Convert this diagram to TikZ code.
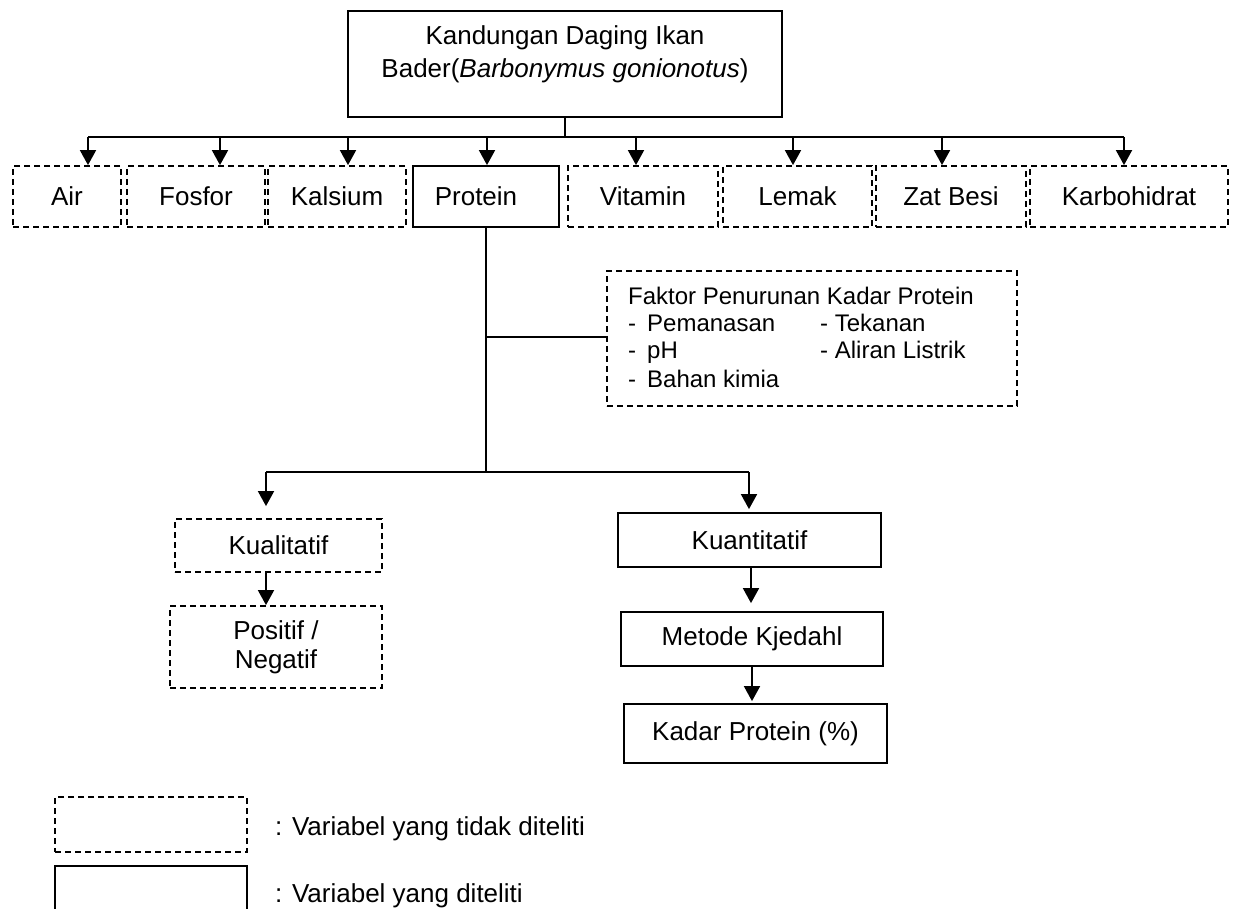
\documentclass[tikz,border=0pt]{standalone}
\usepackage{fontspec}
\setmainfont{Liberation Sans}
\usetikzlibrary{arrows.meta}
\begin{document}
\begin{tikzpicture}[x=1pt,y=-1pt,
  every node/.style={font=\fontsize{26}{31}\selectfont},
  sbox/.style={draw, line width=1.8pt, inner sep=0pt, align=center},
  dbox/.style={sbox, dash pattern=on 6pt off 4pt},
  line/.style={line width=1.8pt},
  arr/.style={line width=1.8pt, -{Triangle[width=16pt,length=15pt]}},
  txt/.style={inner sep=0pt, anchor=base west, font=\fontsize{24}{28}\selectfont}]
\useasboundingbox (0,0) rectangle (1237,909);

% top box
\node[sbox, minimum width=434pt, minimum height=106pt] (top) at (565,64) {};
\node[inner sep=0pt, align=center, font=\fontsize{26}{33}\selectfont] (toptext) at (565,54) {Kandungan Daging Ikan\\Bader(\textit{Barbonymus gonionotus})};

% row
\node[dbox, minimum width=108pt, minimum height=61pt] (air) at (67,196.5) {Air};
\node[dbox, minimum width=138pt, minimum height=61pt] (fos) at (196,196.5) {Fosfor};
\node[dbox, minimum width=138pt, minimum height=61pt] (kal) at (337,196.5) {Kalsium};
\node[sbox, minimum width=146pt, minimum height=61pt] (pro) at (486,196.5) {Protein\hspace*{20pt}};
\node[dbox, minimum width=150pt, minimum height=61pt] (vit) at (643,196.5) {Vitamin};
\node[dbox, minimum width=149pt, minimum height=61pt] (lem) at (797.5,196.5) {Lemak};
\node[dbox, minimum width=150pt, minimum height=61pt] (zat) at (951,196.5) {Zat Besi};
\node[dbox, minimum width=198pt, minimum height=61pt] (kar) at (1129,196.5) {Karbohidrat};

\draw[line] (top.south) -- (top.south |- 0,137);
\draw[line] (88,137) -- (1124,137);
\foreach \x/\n in {88/air,220/fos,348/kal,487/pro,636/vit,793/lem,942/zat,1124/kar}{
  \coordinate (c\n) at (\x,137);
  \draw[arr] (c\n) -- (c\n |- \n.north);
}

% factor box
\node[dbox, minimum width=410pt, minimum height=135pt] (fak) at (812,338.5) {};
\node[txt] (f0) at (628,305) {Faktor Penurunan Kadar Protein};
\node[txt] (f1a) at (628,332) {-};
\node[txt] (f1b) at (647,332) {Pemanasan};
\node[txt] (f1c) at (820,332) {- Tekanan};
\node[txt] (f2a) at (628,359) {-};
\node[txt] (f2b) at (647,359) {pH};
\node[txt] (f2c) at (820,359) {- Aliran Listrik};
\node[txt] (f3a) at (628,387) {-};
\node[txt] (f3b) at (647,387) {Bahan kimia};

% lower boxes
\node[dbox, minimum width=207pt, minimum height=53pt] (kual) at (278.5,545.5) {Kualitatif};
\node[dbox, minimum width=212pt, minimum height=82pt, font=\fontsize{26}{29}\selectfont] (pos) at (276,647) {Positif /\\Negatif};
\node[sbox, minimum width=263pt, minimum height=54pt] (kuan) at (749.5,540) {Kuantitatif};
\node[sbox, minimum width=262pt, minimum height=54pt] (met) at (752,639) {Metode Kjedahl};
\node[sbox, minimum width=263pt, minimum height=59pt] (kad) at (755.5,733.5) {Kadar Protein (\%)};

\coordinate (pj) at (486,337);
\coordinate (pb) at (486,472);
\coordinate (bl) at (266,472);
\coordinate (br) at (749,472);
\coordinate (qk) at (751,472);
\draw[line] (pro.south) -- (pb);
\draw[line] (pj) -- (pj -| fak.west);
\draw[line] (bl) -- (br);
\draw[arr, shorten >=12pt] (bl) -- (bl |- kual.north);
\draw[arr, shorten >=3pt] (br) -- (br |- kuan.north);
\draw[arr] (kual.south -| bl) -- (pos.north -| bl);
\draw[arr, shorten >=8pt] (kuan.south -| qk) -- (met.north -| qk);
\draw[arr, shorten >=2pt] (met.south) -- (met.south |- kad.north);

% legend
\node[dbox, minimum width=192pt, minimum height=55pt] (ld) at (151,824.5) {};
\node[inner sep=0pt, anchor=base west] (lt1) at (275,835) {: Variabel yang tidak diteliti};
\draw[line] (55,910) -- (55,866) -- (247,866) -- (247,910);
\node[inner sep=0pt, anchor=base west] (lt2) at (275,902) {: Variabel yang diteliti};
\end{tikzpicture}
\end{document}
